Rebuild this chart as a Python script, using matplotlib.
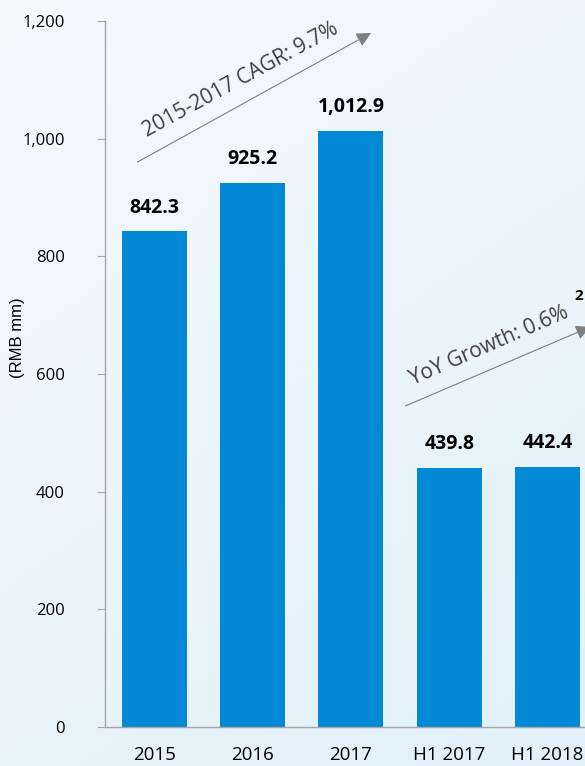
import matplotlib.pyplot as plt
import numpy as np

plt.rcParams['font.family'] = ['Open Sans', 'DejaVu Sans']

categories = ['2015', '2016', '2017', 'H1 2017', 'H1 2018']
values = [842.3, 925.2, 1012.9, 439.8, 442.4]
value_labels = ['842.3', '925.2', '1,012.9', '439.8', '442.4']
yticks = [0, 200, 400, 600, 800, 1000, 1200]

bar_color = '#0288d4'
text_grey = '#404040'
axis_grey = '#a6a6a6'

fig = plt.figure(figsize=(5.85, 7.66), dpi=100)

# light blue gradient background
bg = fig.add_axes([0, 0, 1, 1], zorder=-1)
gy, gx = np.mgrid[0:1:200j, 0:1:200j]
grad = 0.35 * gx + 0.65 * gy
bg.imshow(grad, cmap=plt.matplotlib.colors.LinearSegmentedColormap.from_list(
    'bgc', ['#f5fafd', '#e1f0fa']), aspect='auto', extent=[0, 1, 0, 1], origin='upper')
bg.axis('off')

ax = fig.add_axes([105 / 585, 1 - 727 / 766, 1 - 105 / 585, (727 - 21) / 766])
ax.patch.set_alpha(0)

x = np.arange(len(categories))
ax.bar(x, values, width=0.66, color=bar_color, zorder=2)

for xi, v, lab in zip(x, values, value_labels):
    ax.annotate(lab, (xi, v), xytext=(0, 10), textcoords='offset points',
                ha='center', va='bottom', fontsize=14, fontweight='bold', color='black')

ax.set_xlim(-0.5, 4.38)
ax.set_ylim(0, 1200)
ax.set_yticks(yticks)
ax.set_yticklabels([f'{t:,}' for t in yticks])
ax.set_xticks(x)
ax.set_xticklabels(categories)

for s in ['top', 'right']:
    ax.spines[s].set_visible(False)
for s in ['left', 'bottom']:
    ax.spines[s].set_color(axis_grey)
    ax.spines[s].set_linewidth(1.0)

ax.tick_params(axis='y', length=6, color=axis_grey, labelsize=12, labelcolor='black', pad=23)
ax.tick_params(axis='x', length=0, labelsize=13.5, labelcolor='black', pad=14)

fig.text(18 / 585, 1 - 338 / 766, '(RMB mm)', rotation=90, ha='center', va='center',
         fontsize=12, color='black', family=['Liberation Sans', 'DejaVu Sans'])

# CAGR arrow
ax.annotate('', xy=(2.23, 1182), xytext=(-0.195, 958),
            arrowprops=dict(arrowstyle='-|>', color='#7f7f7f', lw=0.8,
                            mutation_scale=22), annotation_clip=False)
ax.text(0.88, 1100, '2015-2017 CAGR: 9.7%', rotation=28.5, rotation_mode='anchor',
        ha='center', va='center', fontsize=15, color=text_grey)

# YoY arrow
ax.annotate('', xy=(4.46, 682), xytext=(2.53, 544),
            arrowprops=dict(arrowstyle='-|>', color='#7f7f7f', lw=0.8,
                            mutation_scale=22), annotation_clip=False)
ax.text(3.41, 647, 'YoY Growth: 0.6%', rotation=23.5, rotation_mode='anchor',
        ha='center', va='center', fontsize=15, color=text_grey)
ax.text(4.32, 733, '2', ha='center', va='center', fontsize=11, fontweight='bold', color='black')

fig.savefig('out.png', dpi=100)
